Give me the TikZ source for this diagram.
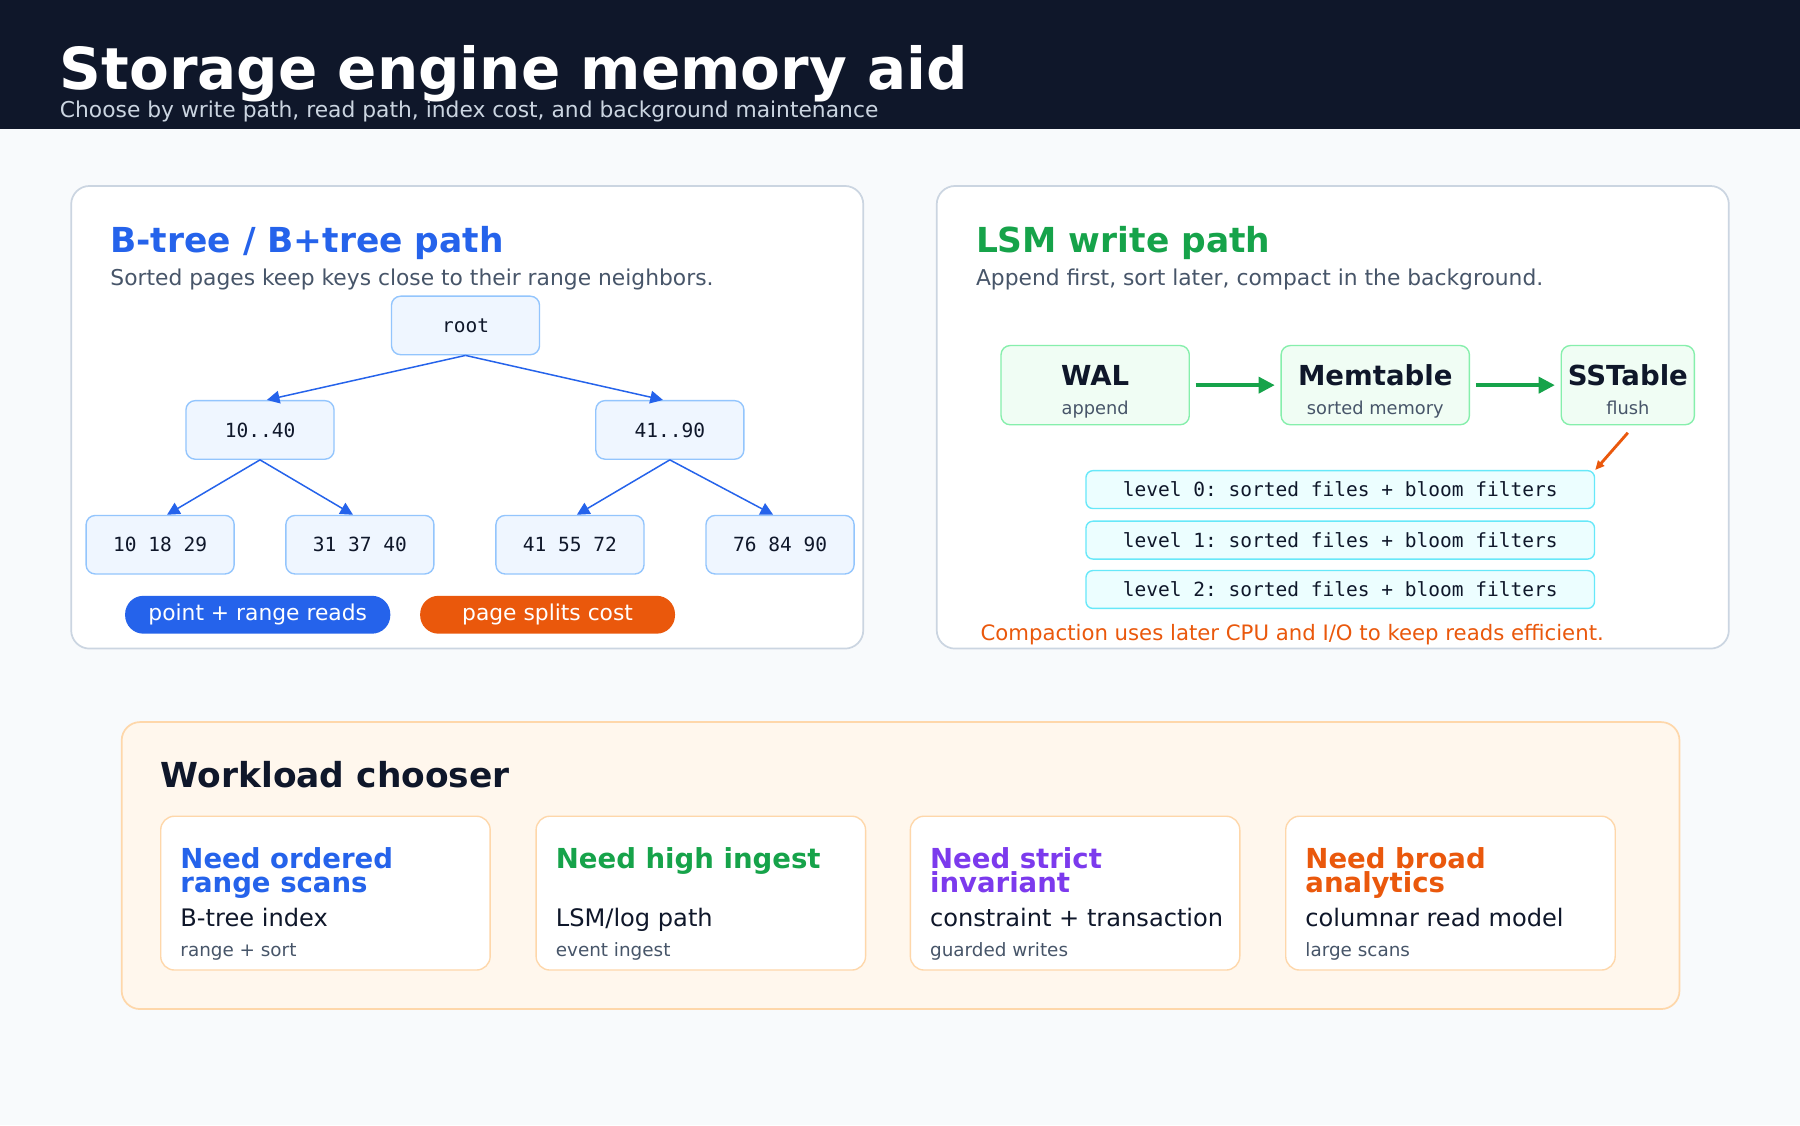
\documentclass[tikz,border=0pt]{standalone}
\usepackage{fontspec}
\setmainfont{DejaVu Sans}
\setmonofont{DejaVu Sans Mono}
\usetikzlibrary{arrows.meta,positioning}
\definecolor{ink}{HTML}{0F172A}
\definecolor{pagebg}{HTML}{F8FAFC}
\definecolor{line}{HTML}{CBD5E1}
\definecolor{muted}{HTML}{475569}
\definecolor{bblue}{HTML}{2563EB}
\definecolor{bfill}{HTML}{EFF6FF}
\definecolor{bstroke}{HTML}{93C5FD}
\definecolor{lgreen}{HTML}{16A34A}
\definecolor{gfill}{HTML}{F0FDF4}
\definecolor{gstroke}{HTML}{86EFAC}
\definecolor{cfill}{HTML}{ECFEFF}
\definecolor{cstroke}{HTML}{67E8F9}
\definecolor{orng}{HTML}{EA580C}
\definecolor{ofill}{HTML}{FFF7ED}
\definecolor{ostroke}{HTML}{FED7AA}
\definecolor{purp}{HTML}{7C3AED}
\newcommand{\fs}[1]{\fontsize{#1}{#1}\selectfont}
\tikzset{
  panel/.style={draw=line, line width=1.5pt, fill=white, rounded corners=16pt},
  keybox/.style={draw=bstroke, fill=bfill, line width=1.2pt, rounded corners=8pt, minimum width=129pt, minimum height=51pt, font=\ttfamily\fs{17}, text=ink},
  treearrow/.style={draw=bblue, line width=1.3pt, -{Triangle[length=11pt,width=11pt]}},
  pill/.style={rounded corners=16pt, minimum height=33pt, text=white, font=\fs{19}},
  stagebox/.style={draw=gstroke, fill=gfill, rounded corners=8pt, minimum height=69pt, line width=1.2pt},
  flowarrow/.style={draw=lgreen, line width=3pt, -{Triangle[length=14pt,width=14pt]}},
  levelbox/.style={draw=cstroke, fill=cfill, rounded corners=6pt, minimum width=443pt, minimum height=33pt, line width=1.2pt, font=\ttfamily\fs{17}, text=ink},
  card/.style={draw=ostroke, fill=white, rounded corners=12pt, line width=1.2pt},
  cardhead/.style={anchor=north west, align=left, font=\bfseries\fontsize{24}{21}\selectfont, inner sep=0pt},
  cardmain/.style={anchor=base west, inner sep=0pt, text=ink, font=\fs{21}},
  cardnote/.style={anchor=base west, inner sep=0pt, text=muted, font=\fs{16}},
}
\begin{document}
\begin{tikzpicture}[x=1pt,y=-1pt]
\useasboundingbox (0,0) rectangle (1568,980);
\fill[pagebg] (0,0) rectangle (1568,980);
% header
\fill[ink] (0,0) rectangle (1568,112);
\node[anchor=base west, inner sep=0pt, text=white, font=\bfseries\fs{50.5}] (title) at (52,78) {Storage engine memory aid};
\node[anchor=base west, inner sep=0pt, text=line, font=\fs{19}] (subtitle) at (52,102) {Choose by write path, read path, index cost, and background maintenance};

% B-tree panel
\draw[panel] (62,162) rectangle (752,565);
\node[anchor=base west, inner sep=0pt, text=bblue, font=\bfseries\fs{30}] (btitle) at (96,220) {B-tree / B+tree path};
\node[anchor=base west, inner sep=0pt, text=muted, font=\fs{19}] (bsub) at (96,249) {Sorted pages keep keys close to their range neighbors.};
\node[keybox] (root) at (405.5,283.5) {root};
\node[keybox] (left) at (226.5,374.5) {10..40};
\node[keybox] (right) at (583.5,374.5) {41..90};
\node[keybox] (l1) at (139.5,474.5) {10 18 29};
\node[keybox] (l2) at (313.5,474.5) {31 37 40};
\node[keybox] (l3) at (496.5,474.5) {41 55 72};
\node[keybox] (l4) at (679.5,474.5) {76 84 90};
\draw[treearrow] (root.south) -- ([xshift=6pt]left.north);
\draw[treearrow] (root.south) -- ([xshift=-6pt]right.north);
\draw[treearrow] (left.south) -- ([xshift=6pt]l1.north);
\draw[treearrow] (left.south) -- ([xshift=-6pt]l2.north);
\draw[treearrow] (right.south) -- ([xshift=6pt]l3.north);
\draw[treearrow] (right.south) -- ([xshift=-6pt]l4.north);
\node[pill, fill=bblue, minimum width=231pt] (reads) at (224.5,535.5) {point + range reads};
\node[pill, fill=orng, minimum width=222pt] (splits) at (477,535.5) {page splits cost};

% LSM panel
\draw[panel] (816,162) rectangle (1506,565);
\node[anchor=base west, inner sep=0pt, text=lgreen, font=\bfseries\fs{30}] (ltitle) at (850,220) {LSM write path};
\node[anchor=base west, inner sep=0pt, text=muted, font=\fs{19}] (lsub) at (850,249) {Append first, sort later, compact in the background.};
\node[stagebox, minimum width=164pt] (wal) at (954,335.5) {};
\node[stagebox, minimum width=164pt] (mem) at (1198,335.5) {};
\node[stagebox, minimum width=116pt] (sst) at (1418,335.5) {};
\foreach \n/\a/\b in {wal/WAL/append, mem/Memtable/sorted memory, sst/SSTable/flush}{
  \node[anchor=base, inner sep=0pt, text=ink, font=\bfseries\fs{24}] at (\n.center) {\a};
  \node[anchor=base, inner sep=0pt, text=muted, font=\fs{15.5}] at ([yshift=-26pt]\n.center) {\b};
}
\draw[flowarrow] ([xshift=5pt]wal.east) -- ([xshift=-5pt]mem.west);
\draw[flowarrow] ([xshift=5pt]mem.east) -- ([xshift=-5pt]sst.west);
\node[levelbox] (lv0) at (1167.5,426.5) {level 0: sorted files + bloom filters};
\node[levelbox] (lv1) at (1167.5,470.5) {level 1: sorted files + bloom filters};
\node[levelbox] (lv2) at (1167.5,513.5) {level 2: sorted files + bloom filters};
\coordinate (flush) at (1418,377);
\draw[orng, line width=2.5pt, -{Triangle[length=8pt,width=7pt]}] (flush) -- (lv0.north east);
\node[anchor=base west, inner sep=0pt, text=orng, font=\fs{18.5}] (compact) at (854,558) {Compaction uses later CPU and I/O to keep reads efficient.};

% workload chooser
\draw[draw=ostroke, fill=ofill, rounded corners=16pt, line width=1.5pt] (106,629) rectangle (1463,879);
\node[anchor=base west, inner sep=0pt, text=ink, font=\bfseries\fs{30}] (wtitle) at (140,686) {Workload chooser};
\foreach \x/\c/\h/\m/\s in {
  140/bblue/{Need ordered\\range scans}/{B-tree index}/{range + sort},
  467/lgreen/{Need high ingest}/{LSM/log path}/{event ingest},
  793/purp/{Need strict\\invariant}/{constraint + transaction}/{guarded writes},
  1120/orng/{Need broad\\analytics}/{columnar read model}/{large scans}}{
  \draw[card] (\x,711) rectangle ++(287,134);
  \node[cardhead, text=\c] at (\x+17,738) {\h};
  \node[cardmain] at (\x+17,807) {\m};
  \node[cardnote] at (\x+17,833) {\s};
}
\end{tikzpicture}
\end{document}
